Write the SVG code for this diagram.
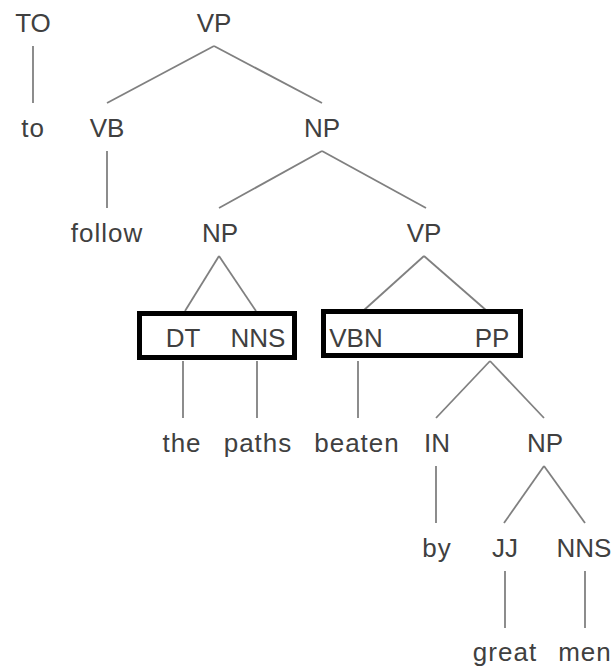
<svg xmlns="http://www.w3.org/2000/svg" width="612" height="672" viewBox="0 0 612 672">
<style>
text{font-family:"Liberation Sans",Arial,sans-serif;font-size:26px;fill:#404040;text-anchor:middle}
text.w{letter-spacing:1px}
.e line{stroke:#808080;stroke-width:1.8}
.box{fill:none;stroke:#000;stroke-width:5}
</style>
<rect width="612" height="672" fill="#fff"/>
<g class="e" id="connectors">
<line x1="33" y1="46" x2="33" y2="103"/>
<line x1="214" y1="46" x2="107" y2="103"/>
<line x1="214" y1="46" x2="322" y2="103"/>
<line x1="107" y1="151" x2="107" y2="208"/>
<line x1="322" y1="151" x2="219" y2="208"/>
<line x1="322" y1="151" x2="426" y2="208"/>
<line x1="219" y1="256" x2="185" y2="311"/>
<line x1="219" y1="256" x2="256" y2="311"/>
<line x1="424" y1="256" x2="363" y2="311"/>
<line x1="424" y1="256" x2="487" y2="311"/>
<line x1="183" y1="361" x2="183" y2="418"/>
<line x1="257" y1="361" x2="257" y2="418"/>
<line x1="358" y1="361" x2="358" y2="418"/>
<line x1="490" y1="361" x2="436" y2="418"/>
<line x1="490" y1="361" x2="544" y2="418"/>
<line x1="436" y1="466" x2="436" y2="523"/>
<line x1="544" y1="466" x2="504" y2="523"/>
<line x1="544" y1="466" x2="585" y2="523"/>
<line x1="505" y1="571" x2="505" y2="628"/>
<line x1="585" y1="571" x2="585" y2="628"/>
</g>
<g id="box1"><rect class="box" x="139.5" y="313.5" width="155" height="44"/></g>
<g id="box2"><rect class="box" x="323.5" y="311.5" width="197" height="44"/></g>
<g id="n-TO"><text x="33" y="32">TO</text></g>
<g id="n-VP1"><text x="214" y="32">VP</text></g>
<g id="n-to"><text class="w" x="33" y="137">to</text></g>
<g id="n-VB"><text x="107" y="137">VB</text></g>
<g id="n-NP1"><text x="322" y="137">NP</text></g>
<g id="n-follow"><text class="w" x="107" y="242">follow</text></g>
<g id="n-NP2"><text x="220" y="242">NP</text></g>
<g id="n-VP2"><text x="424" y="242">VP</text></g>
<g id="n-DT"><text x="183" y="347">DT</text></g>
<g id="n-NNS1"><text x="258" y="347">NNS</text></g>
<g id="n-VBN"><text x="356" y="347">VBN</text></g>
<g id="n-PP"><text x="492" y="347">PP</text></g>
<g id="n-the"><text class="w" x="182" y="452">the</text></g>
<g id="n-paths"><text class="w" x="258" y="452">paths</text></g>
<g id="n-beaten"><text class="w" x="357" y="452">beaten</text></g>
<g id="n-IN"><text x="437" y="452">IN</text></g>
<g id="n-NP3"><text x="545" y="452">NP</text></g>
<g id="n-by"><text class="w" x="437" y="557">by</text></g>
<g id="n-JJ"><text x="505" y="557">JJ</text></g>
<g id="n-NNS2"><text x="584" y="557">NNS</text></g>
<g id="n-great"><text class="w" x="505" y="661">great</text></g>
<g id="n-men"><text class="w" x="585" y="661">men</text></g>
</svg>
